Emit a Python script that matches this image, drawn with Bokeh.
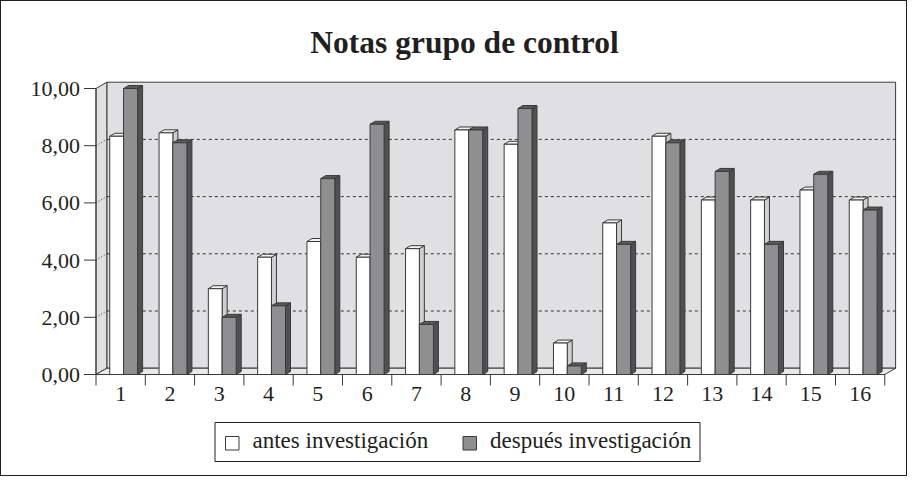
from bokeh.plotting import figure
from bokeh.embed import file_html
from bokeh.resources import INLINE
from bokeh.models import Range1d
from bokeh.core.properties import value

# ---- data ----
categories = [str(i) for i in range(1, 17)]
antes = [8.33, 8.45, 3.0, 4.1, 4.65, 4.1, 4.4, 8.55, 8.05, 1.1, 5.3, 8.33, 6.1, 6.1, 6.45, 6.1]
despues = [10.0, 8.1, 2.0, 2.4, 6.85, 8.75, 1.75, 8.55, 9.3, 0.3, 4.55, 8.1, 7.1, 4.55, 7.0, 5.75]
y_ticks = [0, 2, 4, 6, 8, 10]
y_labels = [f"{v:.2f}".replace(".", ",") for v in y_ticks]
title_text = "Notas grupo de control"
series_names = ["antes investigación", "después investigación"]

# ---- style / geometry constants ----
FONT = "Liberation Serif"
INK = "#231f20"
EDGE = "#3a3a3a"
WALL = "#e0e0e2"
FLOOR = "#e9e9ea"
FRONT = ["#ffffff", "#8f8f92"]
SIDE = ["#cfcfd1", "#505052"]
TOP = ["#f2f2f2", "#5a5a5c"]
W, H = 907, 476
PXX, PXY = 49.3, 28.6          # pixels per data unit
X0_PX, Y0_PX = 94.5, 373.0     # canvas pixel of x=0.5 / y=0
N = len(categories)
YMAX = 10


def dx(px):
    return px / PXX


def dy(px):
    return px / PXY


def X(px):  # canvas px -> data x
    return 0.5 + (px - X0_PX) / PXX


def Y(py):  # canvas px -> data y
    return (Y0_PX - py) / PXY


DDX, DDY = dx(10.8), dy(6.3)     # depth of walls
SDX, SDY = dx(5), dy(3)          # depth of bars
W_OFF, G_OFF, G_END = 0.279, 0.559, 0.844

p = figure(width=W, height=H, output_backend="svg", toolbar_location=None,
           x_axis_type=None, y_axis_type=None,
           x_range=Range1d(X(0), X(W)), y_range=Range1d(Y(H), Y(0)),
           min_border=0, min_border_left=0, min_border_right=0,
           min_border_top=0, min_border_bottom=0)
p.outline_line_color = None
p.background_fill_color = "white"
p.styles = {"border": "1px solid #231f20"}

x0, x1 = 0.5, 0.5 + N
# back wall
p.patch([x0 + DDX, x1 + DDX, x1 + DDX, x0 + DDX], [DDY, DDY, YMAX + DDY, YMAX + DDY],
        fill_color=WALL, line_color=EDGE, line_width=1)
# left wall
p.patch([x0, x0 + DDX, x0 + DDX, x0], [0, DDY, YMAX + DDY, YMAX],
        fill_color=WALL, line_color=EDGE, line_width=1)
# floor
p.patch([x0, x1, x1 + DDX, x0 + DDX], [0, 0, DDY, DDY],
        fill_color=FLOOR, line_color=EDGE, line_width=1)

# gridlines
gv = [v for v in y_ticks if 0 < v < YMAX]
p.segment(x0=[x0 + DDX] * len(gv), y0=[v + DDY for v in gv],
          x1=[x1 + DDX] * len(gv), y1=[v + DDY for v in gv],
          line_color="#333333", line_dash="3 3", line_width=1)
p.segment(x0=[x0] * len(gv), y0=gv, x1=[x0 + DDX] * len(gv), y1=[v + DDY for v in gv],
          line_color="#333333", line_dash="1 2", line_width=1)


def draw_bars(vals, off0, off1, front, side, top):
    lefts = [i + 1 - 0.5 + off0 for i in range(N)]
    rights = [i + 1 - 0.5 + off1 for i in range(N)]
    side_xs = [[r, r + SDX, r + SDX, r] for r in rights]
    side_ys = [[0, SDY, v + SDY, v] for v in vals]
    top_xs = [[l, l + SDX, r + SDX, r] for l, r in zip(lefts, rights)]
    top_ys = [[v, v + SDY, v + SDY, v] for v in vals]
    p.patches(side_xs, side_ys, fill_color=side, line_color=EDGE, line_width=1)
    p.patches(top_xs, top_ys, fill_color=top, line_color=EDGE, line_width=1)
    return p.quad(left=lefts, right=rights, bottom=[0] * N, top=vals,
                  fill_color=front, line_color=EDGE, line_width=1)


draw_bars(antes, W_OFF, G_OFF, FRONT[0], SIDE[0], TOP[0])
draw_bars(despues, G_OFF, G_END, FRONT[1], SIDE[1], TOP[1])

# ---- y axis (front-left edge) ----
p.segment(x0=[x0], y0=[0], x1=[x0], y1=[YMAX], line_color=EDGE, line_width=1)
p.segment(x0=[x0 - dx(12)] * len(y_ticks), y0=y_ticks, x1=[x0] * len(y_ticks), y1=y_ticks,
          line_color=EDGE, line_width=1)
p.text(x=[x0 - dx(16)] * len(y_ticks), y=[v - dy(0.5) for v in y_ticks], text=y_labels,
       text_font=value(FONT), text_font_size=value("22px"), text_color=INK,
       text_align="right", text_baseline="alphabetic")

# ---- x axis (front floor edge) ----
bounds = [i + 0.5 for i in range(N + 1)]
p.segment(x0=[x0], y0=[0], x1=[x1], y1=[0], line_color=EDGE, line_width=1)
p.segment(x0=bounds, y0=[0] * len(bounds), x1=bounds, y1=[-dy(11)] * len(bounds),
          line_color=EDGE, line_width=1)
p.text(x=[i + 1 for i in range(N)], y=[-dy(19)] * N, text=categories,
       text_font=value(FONT), text_font_size=value("22px"), text_color=INK,
       text_align="center", text_baseline="alphabetic")

# ---- title ----
p.text(x=[X(463)], y=[Y(40.5)], text=[title_text],
       text_font=value(FONT), text_font_size=value("31.5px"), text_font_style="bold",
       text_color=INK, text_align="center", text_baseline="alphabetic")

# ---- legend (drawn in the plot frame) ----
p.quad(left=[X(213.5)], right=[X(698.5)], top=[Y(421)], bottom=[Y(460)],
       fill_color="white", line_color=INK, line_width=1)
p.quad(left=[X(224), X(461.5)], right=[X(237.5), X(475)],
       top=[Y(435), Y(435)], bottom=[Y(448.5), Y(448.5)],
       fill_color=FRONT, line_color=EDGE, line_width=1)
p.text(x=[X(251), X(488.5)], y=[Y(438.5), Y(438.5)], text=series_names,
       text_font=value(FONT), text_font_size=value("23px"), text_color=INK,
       text_align="left", text_baseline="alphabetic")

open("out.html", "w").write(file_html(p, INLINE))
